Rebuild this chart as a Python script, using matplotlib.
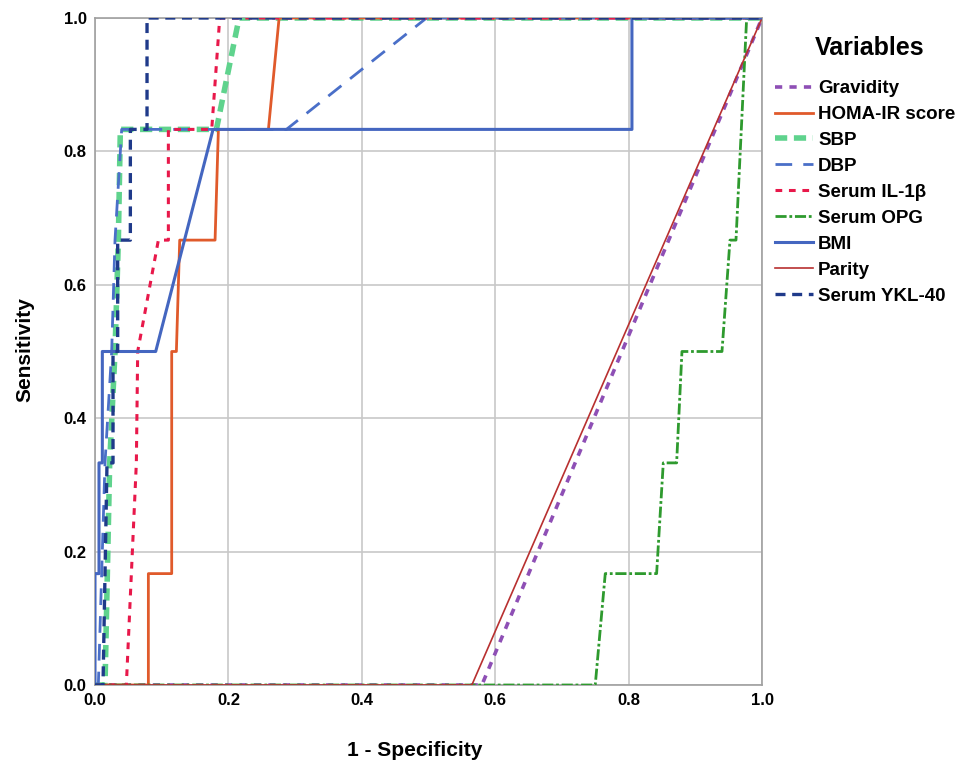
import matplotlib
matplotlib.use("Agg")
import matplotlib.pyplot as plt

plt.rcParams['font.family'] = ['Liberation Sans', 'DejaVu Sans']

# ROC curves (1 - specificity, sensitivity)
grav_x = [0.0, 0.58, 1.0]
grav_y = [0.0, 0.0, 1.0]

homa_x = [0.0, 0.08, 0.08, 0.115, 0.115, 0.122, 0.127, 0.18, 0.185, 0.26, 0.276, 1.0]
homa_y = [0.0, 0.0, 0.167, 0.167, 0.5, 0.5, 0.667, 0.667, 0.833, 0.833, 1.0, 1.0]

sbp_x = [0.0, 0.015, 0.022, 0.03, 0.035, 0.038, 0.182, 0.216, 1.0]
sbp_y = [0.0, 0.0, 0.333, 0.5, 0.667, 0.833, 0.833, 1.0, 1.0]

dbp_x = [0.0, 0.005, 0.01, 0.015, 0.025, 0.03, 0.04, 0.287, 0.497, 1.0]
dbp_y = [0.0, 0.0, 0.167, 0.333, 0.5, 0.667, 0.833, 0.833, 1.0, 1.0]

il_x = [0.0, 0.047, 0.062, 0.064, 0.095, 0.11, 0.11, 0.175, 0.187, 1.0]
il_y = [0.0, 0.0, 0.333, 0.5, 0.667, 0.667, 0.833, 0.833, 1.0, 1.0]

opg_x = [0.0, 0.75, 0.765, 0.842, 0.852, 0.872, 0.88, 0.94, 0.952, 0.961, 0.977, 1.0]
opg_y = [0.0, 0.0, 0.167, 0.167, 0.333, 0.333, 0.5, 0.5, 0.667, 0.667, 1.0, 1.0]

bmi_x = [0.0, 0.0, 0.006, 0.006, 0.011, 0.011, 0.091, 0.177, 0.805, 0.805, 1.0]
bmi_y = [0.0, 0.167, 0.167, 0.333, 0.333, 0.5, 0.5, 0.833, 0.833, 1.0, 1.0]

par_x = [0.0, 0.565, 1.0]
par_y = [0.0, 0.0, 1.0]

ykl_x = [0.0, 0.012, 0.018, 0.027, 0.027, 0.034, 0.034, 0.053, 0.053, 0.078, 0.078, 1.0]
ykl_y = [0.0, 0.0, 0.333, 0.333, 0.5, 0.5, 0.667, 0.667, 0.833, 0.833, 1.0, 1.0]

ticks = [0.0, 0.2, 0.4, 0.6, 0.8, 1.0]
tick_labels = ["0.0", "0.2", "0.4", "0.6", "0.8", "1.0"]

fig = plt.figure(figsize=(9.68, 7.67), dpi=100)
ax = fig.add_axes([95/968, 82/767, 667/968, 667/767])

ax.grid(True, color='#c8c8c8', lw=1.2, zorder=0)
ax.set_axisbelow(True)

lines = []
lines += ax.plot(grav_x, grav_y, color='#8e4fb5', lw=2.6, ls=(0, (2, 2)), label='Gravidity', zorder=3)
lines += ax.plot(homa_x, homa_y, color='#e05a2b', lw=2.0, ls='-', label='HOMA-IR score', zorder=4)
lines += ax.plot(sbp_x, sbp_y, color='#5fd38d', lw=4.0, ls=(0, (2.2, 1.2)), label='SBP', zorder=3)
lines += ax.plot(dbp_x, dbp_y, color='#4a6fc8', lw=2.0, ls=(0, (6, 4)), label='DBP', zorder=4)
lines += ax.plot(il_x, il_y, color='#e8184a', lw=2.2, ls=(0, (2.2, 2.2)), label='Serum IL-1β', zorder=4)
lines += ax.plot(opg_x, opg_y, color='#2e9a2e', lw=2.0, ls=(0, (4, 1, 1, 1)), label='Serum OPG', zorder=4)
lines += ax.plot(bmi_x, bmi_y, color='#4466c0', lw=2.2, ls='-', label='BMI', zorder=5)
lines += ax.plot(par_x, par_y, color='#b83030', lw=1.2, ls='-', label='Parity', zorder=4)
lines += ax.plot(ykl_x, ykl_y, color='#1f3a8a', lw=2.4, ls=(0, (3, 2)), label='Serum YKL-40', zorder=5)

ax.set_xlim(0, 1)
ax.set_ylim(0, 1)
ax.set_xticks(ticks)
ax.set_xticklabels(tick_labels)
ax.set_yticks(ticks)
ax.set_yticklabels(tick_labels)
ax.tick_params(length=0, labelsize=12, pad=6)
for lab in ax.get_xticklabels() + ax.get_yticklabels():
    lab.set_fontweight('bold')
for sp in ax.spines.values():
    sp.set_color('#a0a0a0')
    sp.set_linewidth(1.2)

fig.text(415/968, 1 - 750/767, '1 - Specificity', ha='center', va='center',
         fontsize=15, fontweight='bold')
fig.text(25/968, 1 - 350/767, 'Sensitivity', ha='center', va='center',
         rotation=90, fontsize=15, fontweight='bold')

fig.text(870/968, 1 - 48/767, 'Variables', ha='center', va='center',
         fontsize=18, fontweight='bold')

leg = fig.legend(handles=lines, loc='upper left', bbox_to_anchor=(775/968, 1 - 80/767),
                 frameon=False, fontsize=13.5,
                 handlelength=2.0, handletextpad=0.3, labelspacing=0.47,
                 borderaxespad=0, borderpad=0)
for t in leg.get_texts():
    t.set_fontweight('bold')

fig.savefig('out.png', dpi=100)
